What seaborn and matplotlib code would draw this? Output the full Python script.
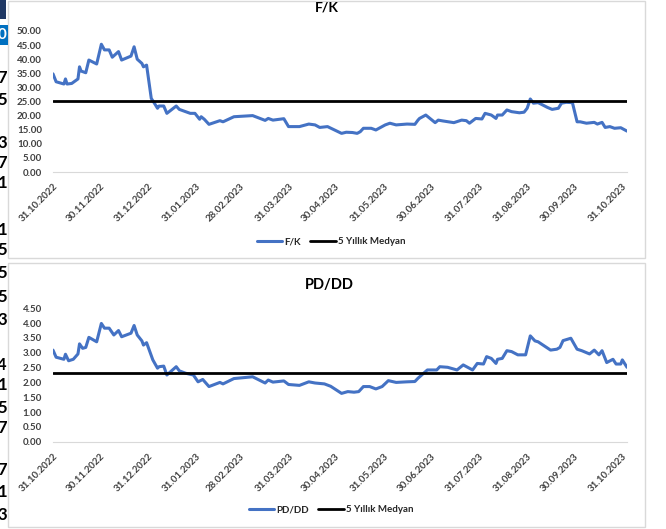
import matplotlib
matplotlib.use("Agg")
import matplotlib.pyplot as plt
import matplotlib.dates as mdates
from matplotlib.patches import Rectangle
import seaborn as sns
import pandas as pd

# ---------------- data ----------------
start_date = "2022-10-31"

fk_days = [0, 2, 7, 8, 9, 12, 16, 17, 18, 21, 23, 28, 31, 33, 36, 38, 42, 44, 50, 52,
           54, 57, 58, 60, 63, 65, 67, 68, 71, 73, 79, 81, 85, 88, 91, 94, 95, 97, 100,
           107, 109, 116, 128, 136, 138, 141, 148, 151, 158, 164, 168, 171, 176, 185,
           188, 192, 195, 197, 199, 204, 207, 213, 216, 220, 227, 232, 234, 235, 239,
           245, 247, 250, 257, 262, 265, 267, 271, 275, 277, 281, 284, 285, 288, 291,
           294, 299, 302, 304, 306, 308, 311, 317, 320, 324, 326, 329, 333, 336, 338,
           342, 347, 349, 352, 354, 357, 360, 364, 368]
fk_values = [34.8, 32.0, 31.2, 33.0, 31.2, 31.4, 33.0, 37.3, 35.8, 35.2, 39.7, 38.3, 45.3,
             43.3, 43.3, 40.7, 42.7, 39.7, 41.1, 44.4, 40.0, 38.5, 37.3, 37.9, 26.1, 24.4,
             22.6, 23.4, 23.4, 20.8, 23.4, 22.2, 21.4, 20.8, 20.8, 18.7, 19.6, 18.7, 16.9,
             18.2, 17.8, 19.6, 20.0, 18.3, 19.0, 18.4, 18.9, 16.1, 16.1, 17.0, 16.7, 15.8,
             16.1, 13.7, 14.1, 14.0, 13.7, 14.3, 15.5, 15.5, 14.9, 16.7, 17.3, 16.7, 17.0,
             16.9, 18.4, 19.0, 20.2, 17.5, 18.4, 18.1, 17.5, 18.4, 18.2, 17.3, 19.0, 18.8,
             20.8, 20.2, 19.0, 20.2, 20.2, 22.0, 21.4, 21.0, 21.2, 22.6, 25.9, 24.4, 24.6,
             22.9, 22.2, 22.6, 24.4, 24.7, 24.6, 17.8, 17.8, 17.3, 17.6, 17.0, 17.6, 15.8,
             16.1, 15.5, 15.7, 14.5]
fk_median = 25.2

pd_days = [0, 2, 7, 8, 10, 13, 16, 17, 19, 21, 23, 28, 31, 33, 36, 39, 42, 44, 50, 52,
           54, 57, 58, 60, 64, 67, 68, 71, 73, 79, 81, 85, 90, 93, 96, 100, 107, 109, 116,
           128, 136, 138, 141, 148, 151, 158, 164, 168, 174, 178, 185, 189, 193, 196, 199,
           203, 207, 211, 215, 220, 227, 232, 234, 240, 246, 248, 253, 259, 263, 269, 272,
           276, 278, 281, 284, 285, 288, 291, 294, 298, 303, 306, 309, 311, 319, 323, 325,
           327, 332, 336, 339, 344, 347, 350, 352, 355, 359, 361, 364, 365, 368]
pd_values = [3.09, 2.85, 2.78, 2.95, 2.73, 2.78, 2.96, 3.30, 3.15, 3.18, 3.52, 3.37, 3.99,
             3.83, 3.83, 3.60, 3.75, 3.54, 3.66, 3.92, 3.60, 3.40, 3.26, 3.34, 2.76, 2.48,
             2.53, 2.55, 2.25, 2.53, 2.39, 2.31, 2.25, 2.02, 2.10, 1.86, 2.00, 1.95, 2.13,
             2.19, 1.98, 2.08, 2.01, 2.05, 1.93, 1.90, 2.02, 1.98, 1.95, 1.87, 1.63, 1.69,
             1.67, 1.69, 1.86, 1.86, 1.78, 1.86, 2.06, 2.00, 2.02, 2.03, 2.14, 2.42, 2.42,
             2.53, 2.51, 2.42, 2.59, 2.42, 2.64, 2.62, 2.87, 2.81, 2.64, 2.78, 2.81, 3.07,
             3.04, 2.93, 2.93, 3.57, 3.40, 3.37, 3.09, 3.12, 3.18, 3.41, 3.49, 3.12, 3.07,
             2.96, 3.09, 2.93, 3.07, 2.67, 2.78, 2.62, 2.62, 2.76, 2.51]
pd_median = 2.32

tick_dates = ["2022-10-31", "2022-11-30", "2022-12-31", "2023-01-31", "2023-02-28",
              "2023-03-31", "2023-04-30", "2023-05-31", "2023-06-30", "2023-07-31",
              "2023-08-31", "2023-09-30", "2023-10-31"]

fk_yticks = [0, 5, 10, 15, 20, 25, 30, 35, 40, 45, 50]
pd_yticks = [0, 0.5, 1.0, 1.5, 2.0, 2.5, 3.0, 3.5, 4.0, 4.5]

side_labels = [("7", 78), ("5", 100), ("3", 143), ("7", 163), ("1", 183), ("1", 230),
               ("5", 250), ("5", 273), ("5", 297), ("3", 320), ("4", 365), ("1", 385),
               ("5", 408), ("7", 428), ("7", 470), ("1", 492), ("3", 515)]

# ---------------- style ----------------
sns.set_theme(style="white")
plt.rcParams["font.family"] = ["Lato", "DejaVu Sans"]

W, H = 666, 529
fig = plt.figure(figsize=(W / 100, H / 100), dpi=100)

BLUE = "#4472C4"
GRID = "#d9d9d9"

t0 = pd.Timestamp(start_date)
fk_df = pd.DataFrame({"date": t0 + pd.to_timedelta(fk_days, unit="D"), "F/K": fk_values})
pd_df = pd.DataFrame({"date": t0 + pd.to_timedelta(pd_days, unit="D"), "PD/DD": pd_values})
ticks = pd.to_datetime(tick_dates)


def px_axes(left, top, right, bottom):
    return fig.add_axes([left / W, 1 - bottom / H, (right - left) / W, (bottom - top) / H])


# panel frames
for (y0, y1) in [(1, 258), (263, 527)]:
    fig.patches.append(Rectangle((8 / W, 1 - y1 / H), (645 - 8) / W, (y1 - y0) / H,
                                 transform=fig.transFigure, fill=False,
                                 edgecolor=GRID, linewidth=1.0))

# side fragments
fig.patches.append(Rectangle((0, 1 - 19 / H), 6 / W, 19 / H, transform=fig.transFigure,
                             facecolor="#1F3864", edgecolor="none"))
fig.patches.append(Rectangle((0, 1 - 45 / H), 8 / W, 20 / H, transform=fig.transFigure,
                             facecolor="#0070C0", edgecolor="none"))
fig.text(6 / W, 1 - 35 / H, "0", ha="right", va="center", color="white",
         fontsize=11, fontweight="bold")
for s, yy in side_labels:
    fig.text(7 / W, 1 - yy / H, s, ha="right", va="center", color="black",
             fontsize=12, fontweight="bold")


def style_axes(ax, yticks, fmt, ylim):
    ax.set_xlim(t0, t0 + pd.Timedelta(days=368))
    ax.set_ylim(*ylim)
    ax.set_yticks(yticks)
    ax.set_yticklabels([fmt.format(v) for v in yticks], fontsize=7, fontweight="bold",
                       color="#404040")
    ax.set_xticks(ticks)
    ax.set_xticklabels([d.strftime("%d.%m.%Y") for d in ticks], rotation=45, ha="right",
                       rotation_mode="anchor", fontsize=7, fontweight="bold", color="#404040")
    ax.tick_params(axis="y", length=0, pad=8)
    ax.tick_params(axis="x", length=4, width=0.8, color=GRID, direction="out", pad=3)
    for sp in ["top", "right", "left"]:
        ax.spines[sp].set_visible(False)
    ax.spines["bottom"].set_color(GRID)
    ax.spines["bottom"].set_linewidth(0.8)
    ax.set_xlabel("")
    ax.set_ylabel("")
    ax.grid(False)
    ax.set_facecolor("none")


# ---- top: F/K ----
ax1 = px_axes(53, 31, 627, 172)
sns.lineplot(data=fk_df, x="date", y="F/K", ax=ax1, color=BLUE, linewidth=2.2, label="F/K")
ax1.axhline(fk_median, color="black", linewidth=2.0, label="5 Yıllık Medyan")
style_axes(ax1, fk_yticks, "{:.2f}", (0, 50))
fig.text(327 / W, 1 - 8 / H, "F/K", ha="center", va="center", fontsize=10,
         fontweight="bold", color="black")
ax1.legend(loc="center", bbox_to_anchor=(331 / W, 1 - 242 / H),
           bbox_transform=fig.transFigure, ncol=2, frameon=False,
           prop={"size": 7, "weight": "bold"}, handlelength=2.6, columnspacing=1.0,
           handletextpad=0.2)

# ---- bottom: PD/DD ----
ax2 = px_axes(53, 308.3, 627, 441.7)
sns.lineplot(data=pd_df, x="date", y="PD/DD", ax=ax2, color=BLUE, linewidth=2.2, label="PD/DD")
ax2.axhline(pd_median, color="black", linewidth=2.0, label="5 Yıllık Medyan")
style_axes(ax2, pd_yticks, "{:.2f}", (0, 4.5))
fig.text(329 / W, 1 - 285 / H, "PD/DD", ha="center", va="center", fontsize=10.5,
         fontweight="bold", color="black")
ax2.legend(loc="center", bbox_to_anchor=(331 / W, 1 - 510 / H),
           bbox_transform=fig.transFigure, ncol=2, frameon=False,
           prop={"size": 7, "weight": "bold"}, handlelength=2.6, columnspacing=1.0,
           handletextpad=0.2)

fig.savefig("out.png", dpi=100, facecolor="white")
